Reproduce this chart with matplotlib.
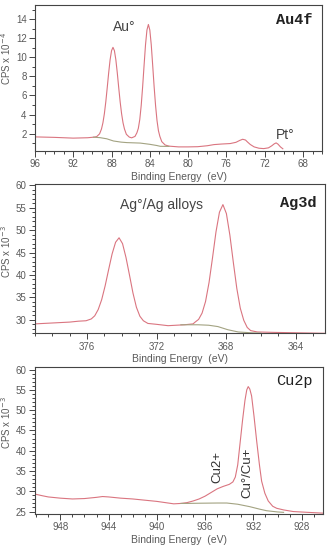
import matplotlib
matplotlib.use("Agg")
import matplotlib.pyplot as plt
from matplotlib.ticker import MultipleLocator

plt.rcParams['font.family'] = ['Liberation Sans Narrow', 'Liberation Sans', 'DejaVu Sans']

# ---------------- data ----------------
# Au4f panel : binding energy (eV) / CPS x 1e-4
au_be = [96.0, 94.0, 92.0, 90.5, 89.85, 89.55, 89.25, 89.05, 88.9, 88.75, 88.6, 88.45,
         88.3, 88.15, 88.0, 87.85, 87.7, 87.55, 87.4, 87.25, 87.1, 86.95, 86.8, 86.65,
         86.45, 86.15, 85.9, 85.55, 85.35, 85.2, 85.05, 84.9, 84.75, 84.6, 84.45, 84.3,
         84.15, 84.0, 83.85, 83.7, 83.55, 83.4, 83.25, 83.1, 82.95, 82.75, 82.4, 82.0,
         81.0, 80.0, 79.0, 78.0, 77.3, 76.5, 75.6, 75.0, 74.6, 74.3, 74.0, 73.8, 73.5,
         73.1, 72.6, 72.1, 71.6, 71.25, 71.0, 70.8, 70.6, 70.35, 70.1]
au_cps = [1.65, 1.60, 1.52, 1.56, 1.62, 1.68, 1.97, 2.48, 3.13, 4.08, 5.33, 6.82,
          8.37, 9.75, 10.7, 11.05, 10.7, 9.75, 8.37, 6.82, 5.33, 4.08, 3.13, 2.48,
          1.92, 1.63, 1.55, 1.70, 2.08, 2.55, 3.47, 4.95, 6.92, 9.16, 11.32, 12.87,
          13.45, 12.87, 11.32, 9.16, 6.92, 4.95, 3.37, 2.3, 1.7, 1.15, 0.8, 0.68,
          0.6, 0.6, 0.62, 0.72, 0.84, 0.9, 0.95, 1.08, 1.28, 1.4, 1.32, 1.12, 0.85,
          0.6, 0.46, 0.42, 0.5, 0.72, 0.92, 1.02, 0.88, 0.6, 0.4]
au_bg_be = [89.9, 89.2, 88.5, 87.8, 87.0, 86.4, 85.0, 84.0, 83.3, 82.9, 82.0]
au_bg_cps = [1.62, 1.57, 1.45, 1.22, 1.1, 1.05, 1.0, 0.87, 0.75, 0.66, 0.65]

# Ag3d panel : CPS x 1e-3
ag_be = [379.0, 378.0, 377.5, 377.0, 376.5, 376.06, 375.76, 375.56, 375.36, 375.16,
         374.96, 374.76, 374.56, 374.36, 374.16, 373.96, 373.76, 373.56, 373.36,
         373.16, 372.96, 372.76, 372.5, 372.0, 371.34, 370.4, 369.9, 369.78, 369.58,
         369.38, 369.18, 368.98, 368.78, 368.58, 368.38, 368.18, 367.98, 367.78,
         367.58, 367.38, 367.18, 366.98, 366.78, 366.58, 366.2, 365.2, 362.3]
ag_cps = [29.1, 29.3, 29.4, 29.5, 29.7, 29.8, 30.2, 30.9, 32.3, 34.5,
          37.6, 41.2, 44.7, 47.3, 48.3, 47.0, 43.9, 40.0, 36.0,
          32.8, 30.8, 29.8, 29.2, 29.0, 28.7, 28.9, 29.1, 29.5, 30.1,
          31.5, 34.1, 38.3, 43.8, 49.6, 54.0, 55.7, 53.7, 48.9,
          42.8, 37.0, 32.6, 29.9, 28.3, 27.6, 27.3, 27.2, 27.0]
ag_bg_be = [370.6, 369.6, 369.0, 368.47, 367.9, 367.3, 366.5, 366.0]
ag_bg_cps = [28.9, 28.9, 28.8, 28.5, 27.8, 27.3, 27.1, 27.05]

# Cu2p panel : CPS x 1e-3
cu_be = [950.1, 949.5, 949.0, 948.0, 947.0, 946.0, 945.0, 944.5, 944.0, 943.0, 942.0,
         941.0, 940.0, 939.3, 938.6, 938.0, 937.5, 937.0, 936.5, 936.0, 935.5, 935.0,
         934.5, 934.0, 933.7, 933.5, 933.3, 933.1, 932.9, 932.7, 932.55, 932.43,
         932.3, 932.15, 931.95, 931.73, 931.5, 931.32, 931.05, 930.77, 930.4, 930.07,
         929.5, 928.7, 927.5, 926.2]
cu_cps = [29.3, 28.9, 28.6, 28.3, 28.1, 28.2, 28.5, 28.7, 28.6, 28.3, 28.1,
          27.8, 27.5, 27.2, 26.9, 27.0, 27.2, 27.6, 28.1, 28.8, 29.7, 30.6,
          31.2, 31.7, 32.3, 33.5, 36.5, 42.0, 47.5, 52.4, 55.0, 55.8,
          55.2, 53.5, 48.5, 42.4, 36.5, 32.5, 29.5, 27.6, 26.3, 25.8,
          25.4, 25.0, 24.8, 24.6]
cu_bg_be = [938.0, 937.5, 936.5, 935.0, 934.2, 933.3, 932.3, 931.5, 930.9, 930.0, 929.5]
cu_bg_cps = [27.0, 27.0, 27.05, 27.1, 27.1, 26.8, 26.2, 25.6, 25.2, 24.9, 24.8]

RED = "#da7580"
GREEN = "#a3a382"
GRAY = "#5a5a5a"

fig = plt.figure(figsize=(3.3, 5.5), dpi=100)
ax1 = fig.add_axes([0.106, 0.726, 0.870, 0.265])
ax2 = fig.add_axes([0.106, 0.394, 0.879, 0.2715])
ax3 = fig.add_axes([0.106, 0.0655, 0.874, 0.267])


def style(ax, xlim, ylim, ymaj, ymin, ylabel, ylab_y):
    ax.set_xlim(*xlim)
    ax.set_ylim(*ylim)
    ax.xaxis.set_major_locator(MultipleLocator(4))
    ax.xaxis.set_minor_locator(MultipleLocator(1))
    ax.yaxis.set_major_locator(MultipleLocator(ymaj))
    ax.yaxis.set_minor_locator(MultipleLocator(ymin))
    ax.tick_params(which='both', direction='out', colors='#444444', labelcolor=GRAY,
                   labelsize=7, width=0.7)
    ax.tick_params(which='major', length=4, pad=2)
    ax.tick_params(which='minor', length=2)
    for s in ax.spines.values():
        s.set_color('#444444')
        s.set_linewidth(0.8)
    ax.set_xlabel("Binding Energy  (eV)", fontsize=7.5, color=GRAY, labelpad=2,
                  family=['Liberation Sans', 'DejaVu Sans'])
    ax.set_ylabel(ylabel, fontsize=7, color=GRAY, family=['Liberation Sans', 'DejaVu Sans'])
    ax.yaxis.set_label_coords(-0.077, ylab_y)


ax1.plot(au_be, au_cps, color=RED, lw=0.8)
ax1.plot(au_bg_be, au_bg_cps, color=GREEN, lw=0.8)
style(ax1, (96, 66), (0.2, 15.5), 2, 1, "CPS x 10$^{-4}$", 0.63)
ax1.text(86.7, 13.2, "Au°", fontsize=10, color='#444444', ha='center', va='center',
         family=['Liberation Sans', 'DejaVu Sans'])
ax1.text(69.9, 1.9, "Pt°", fontsize=10, color='#444444', ha='center', va='center',
         family=['Liberation Sans', 'DejaVu Sans'])
ax1.text(0.965, 0.897, "Au4f", transform=ax1.transAxes, fontsize=11, fontweight='bold',
         ha='right', va='center', family=['Liberation Mono', 'DejaVu Sans Mono'], color='#222222')

ax2.plot(ag_be, ag_cps, color=RED, lw=0.8)
ax2.plot(ag_bg_be, ag_bg_cps, color=GREEN, lw=0.8)
style(ax2, (379.0, 362.3), (27.0, 60.3), 5, 1, "CPS x 10$^{-3}$", 0.545)
ax2.text(371.7, 55.7, "Ag°/Ag alloys", fontsize=10, color='#444444', ha='center', va='center',
         family=['Liberation Sans', 'DejaVu Sans'])
ax2.text(0.972, 0.873, "Ag3d", transform=ax2.transAxes, fontsize=11, fontweight='bold',
         ha='right', va='center', family=['Liberation Mono', 'DejaVu Sans Mono'], color='#222222')

ax3.plot(cu_be, cu_cps, color=RED, lw=0.8)
ax3.plot(cu_bg_be, cu_bg_cps, color=GREEN, lw=0.8)
style(ax3, (950.1, 926.2), (24.4, 60.6), 5, 1, "CPS x 10$^{-3}$", 0.62)
ax3.text(934.95, 35.9, "Cu2+", fontsize=9.5, color='#333333', ha='center', va='center',
         rotation=90, family=['Liberation Sans', 'DejaVu Sans'])
ax3.text(932.46, 34.6, "Cu°/Cu+", fontsize=9.5, color='#333333', ha='center', va='center',
         rotation=90, family=['Liberation Sans', 'DejaVu Sans'])
ax3.text(0.964, 0.905, "Cu2p", transform=ax3.transAxes, fontsize=11,
         ha='right', va='center', family=['Liberation Mono', 'DejaVu Sans Mono'], color='#222222')

fig.savefig("out.png", dpi=100, facecolor='white')
